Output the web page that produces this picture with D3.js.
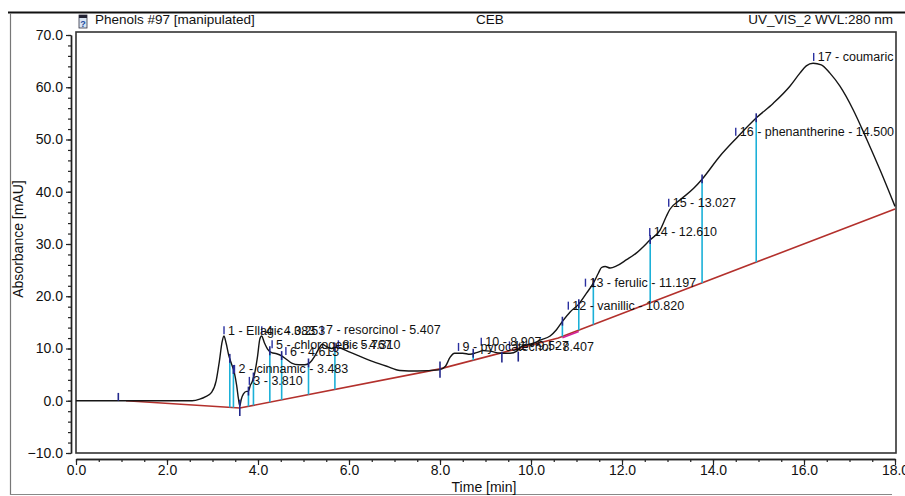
<!DOCTYPE html>
<html>
<head>
<meta charset="utf-8">
<script src="https://cdn.jsdelivr.net/npm/d3@7/dist/d3.min.js"></script>
<style>
  html, body { margin: 0; padding: 0; background: #fff; }
  svg { display: block; font-family: "Liberation Sans", Arial, sans-serif; }
</style>
</head>
<body>
<svg id="chart" width="905" height="496"></svg>
<script>
// ---------------- data ----------------
const curveTime = [0, 1.0, 2.0, 2.55, 2.72, 2.85, 2.98, 3.08, 3.15, 3.21, 3.25, 3.30, 3.36, 3.42, 3.48, 3.53, 3.57, 3.60, 3.63, 3.68, 3.75, 3.79, 3.83, 3.87, 3.93, 3.99, 4.04, 4.08, 4.14, 4.21, 4.30, 4.41, 4.52, 4.63, 4.74, 4.89, 5.03, 5.14, 5.25, 5.34, 5.41, 5.50, 5.62, 5.73, 5.84, 5.99, 6.24, 6.53, 6.83, 7.12, 7.5, 7.98, 8.12, 8.22, 8.32, 8.50, 8.66, 8.80, 8.95, 9.10, 9.32, 9.54, 9.69, 9.79, 9.91, 10.05, 10.2, 10.42, 10.56, 10.70, 10.86, 11.04, 11.22, 11.37, 11.48, 11.55, 11.63, 11.74, 11.88, 12.10, 12.32, 12.62, 12.84, 12.98, 13.05, 13.27, 13.57, 13.75, 14.15, 14.52, 14.96, 15.32, 15.69, 15.91, 16.05, 16.2, 16.38, 16.57, 16.79, 17.08, 17.38, 17.67, 18.0];
const curveAbs  = [0, 0, 0, 0, 0.3, 0.8, 1.6, 3.8, 7.5, 11.2, 12.4, 11.0, 8.6, 7.0, 5.4, 3.0, 0.4, -1.0, 0.2, 1.3, 1.8, 1.8, 2.9, 3.6, 5.4, 8.5, 11.8, 12.4, 11.1, 9.9, 9.2, 9.0, 8.6, 7.9, 7.2, 6.9, 6.9, 7.3, 8.6, 10.0, 10.8, 10.4, 10.0, 10.3, 10.0, 9.4, 8.5, 7.5, 6.6, 5.8, 5.7, 5.9, 6.6, 8.3, 9.1, 9.1, 8.9, 9.2, 9.6, 9.5, 9.1, 9.1, 9.5, 10.4, 10.7, 11.0, 11.6, 12.4, 13.6, 15.3, 17.0, 18.4, 20.6, 22.5, 24.4, 25.5, 25.7, 25.4, 25.8, 27.0, 28.3, 30.8, 32.7, 35.4, 36.6, 38.4, 40.6, 42.3, 46.8, 50.3, 54.2, 56.9, 60.2, 62.7, 64.1, 64.6, 64.3, 62.7, 60.2, 55.7, 50.0, 44.2, 37.2];

const baselineTime = [1.1, 3.6, 8.0, 10.6, 18.0];
const baselineAbs  = [0, -1.4, 6.1, 12.0, 36.7];

const peakTime  = [3.253, 3.483, 3.810, 4.083, 4.310, 4.613, 5.407, 5.767, 8.407, 8.907, 9.527, 10.820, 11.197, 12.610, 13.027, 14.500, 16.213];
const peakLabel = ["1 - Ellagic - 3.253", "2 - cinnamic - 3.483", "3 - 3.810", "4 - 4.083", "5 - chlorogenic - 4.310", "6 - 4.613", "7 - resorcinol - 5.407", "8 - 5.767", "9 - pyrocatechol - 8.407", "10 - 8.907", "11 - 9.527", "12 - vanillic - 10.820", "13 - ferulic - 11.197", "14 - 12.610", "15 - 13.027", "16 - phenantherine - 14.500", "17 - coumaric - 16.213"];
const peakLabelLevel = [13.5, 6.1, 3.8, 13.5, 10.8, 9.5, 13.6, 10.8, 10.3, 11.3, 10.6, 18.2, 22.6, 32.3, 37.9, 51.5, 65.8];

// drop lines between peaks (time)
const dropTime = [3.38, 3.46, 3.79, 3.90, 4.26, 4.52, 5.11, 5.69, 8.73, 10.69, 11.05, 11.37, 12.62, 13.76, 14.95];
// baseline delimiter marks: time, top, bottom (mAU)
const markTime   = [0.93, 3.60, 8.00, 9.36, 9.72];
const markTop    = [1.5, 0.2, 7.5, 9.4, 9.4];
const markBottom = [0.0, -2.9, 4.4, 7.3, 7.5];
// magenta baseline segment
const magentaTime = [10.69, 11.05];

const yMajor = [-10, 0, 10, 20, 30, 40, 50, 60, 70];
const xMajor = [0, 2, 4, 6, 8, 10, 12, 14, 16, 18];

const headerLeft = "Phenols #97 [manipulated]";
const headerMid = "CEB";
const headerRight = "UV_VIS_2 WVL:280 nm";
const xTitle = "Time [min]";
const yTitle = "Absorbance [mAU]";

// ---------------- drawing ----------------
const svg = d3.select("#chart");
const W = 905, H = 496;
const L = 76, R = 895, T = 35, B = 453;

const x = d3.scaleLinear().domain([0, 18]).range([L, R]);
const y = d3.scaleLinear().domain([-10, 70]).range([B, T]);

const curve = curveTime.map((t, i) => [t, curveAbs[i]]);
const base = baselineTime.map((t, i) => [t, baselineAbs[i]]);
function interp(arr, t) {
  for (let i = 1; i < arr.length; i++) {
    if (t <= arr[i][0]) {
      const a = arr[i - 1], b = arr[i];
      return a[1] + (b[1] - a[1]) * (t - a[0]) / (b[0] - a[0]);
    }
  }
  return arr[arr.length - 1][1];
}

// outer frame
svg.append("line").attr("x1", 8).attr("x2", W).attr("y1", 12.5).attr("y2", 12.5)
  .attr("stroke", "#111").attr("stroke-width", 2);
svg.append("line").attr("x1", 10.5).attr("x2", 10.5).attr("y1", 13).attr("y2", 495)
  .attr("stroke", "#777").attr("stroke-width", 1.2);
svg.append("line").attr("x1", 10).attr("x2", 892).attr("y1", 494.5).attr("y2", 494.5)
  .attr("stroke", "#888").attr("stroke-width", 1.2);

// header
const icon = svg.append("g").attr("transform", "translate(79,15)");
icon.append("rect").attr("width", 8).attr("height", 13).attr("fill", "#d8e4f2").attr("stroke", "#334").attr("stroke-width", 0.8);
icon.append("rect").attr("width", 8).attr("height", 3).attr("fill", "#223");
icon.append("text").attr("x", 4).attr("y", 12).attr("text-anchor", "middle").attr("font-size", 9).attr("font-weight", "bold").attr("fill", "#1a4aa0").text("?");

svg.append("text").attr("x", 95).attr("y", 24).attr("font-size", 13.5).attr("fill", "#111").text(headerLeft);
svg.append("text").attr("x", 490).attr("y", 24).attr("text-anchor", "middle").attr("font-size", 13.5).attr("fill", "#111").text(headerMid);
svg.append("text").attr("x", 893).attr("y", 24).attr("text-anchor", "end").attr("font-size", 13.5).attr("fill", "#111").text(headerRight);

// plot frame
svg.append("rect")
  .attr("x", L).attr("y", 32).attr("width", 896 - L).attr("height", B - 32)
  .attr("fill", "none").attr("stroke", "#333").attr("stroke-width", 1.6);

// y axis
const yAxisG = svg.append("g").attr("transform", "translate(71,0)");
yAxisG.call(d3.axisLeft(y).tickValues(d3.range(-10, 70.1, 2)).tickSize(3).tickFormat("").tickSizeOuter(0));
yAxisG.append("g").call(d3.axisLeft(y).tickValues(yMajor).tickSize(5).tickSizeOuter(0).tickPadding(3).tickFormat(d3.format(".1f")));
yAxisG.selectAll("path.domain").attr("stroke", "#222").attr("stroke-width", 1.4);
yAxisG.selectAll(".tick line").attr("stroke", "#222").attr("stroke-width", 1.2);
yAxisG.selectAll("text").attr("font-size", 14).attr("fill", "#111").attr("font-family", "Liberation Sans, Arial, sans-serif");

// x axis
const xAxisG = svg.append("g").attr("transform", "translate(0,459)");
xAxisG.call(d3.axisBottom(x).tickValues(d3.range(0, 18.01, 0.5)).tickSize(3).tickFormat("").tickSizeOuter(0));
xAxisG.append("g").call(d3.axisBottom(x).tickValues(xMajor).tickSize(6).tickSizeOuter(0).tickPadding(0).tickFormat(d3.format(".1f")));
xAxisG.selectAll("path.domain").attr("stroke", "#222").attr("stroke-width", 1.4);
xAxisG.selectAll(".tick line").attr("stroke", "#222").attr("stroke-width", 1.2);
xAxisG.selectAll("text").attr("font-size", 14).attr("fill", "#111").attr("font-family", "Liberation Sans, Arial, sans-serif");

// axis titles
svg.append("text").attr("x", 484).attr("y", 492).attr("text-anchor", "middle").attr("font-size", 14).attr("fill", "#111").text(xTitle);
svg.append("text").attr("transform", "translate(23,239) rotate(-90)").attr("text-anchor", "middle").attr("font-size", 14).attr("fill", "#111").text(yTitle);

// clip
svg.append("defs").append("clipPath").attr("id", "plotclip")
  .append("rect").attr("x", L).attr("y", 32).attr("width", 896 - L).attr("height", B - 32);
const plot = svg.append("g").attr("clip-path", "url(#plotclip)");

// baseline
plot.append("path").datum(base)
  .attr("d", d3.line().x(d => x(d[0])).y(d => y(d[1])))
  .attr("fill", "none").attr("stroke", "#b3302c").attr("stroke-width", 1.6);
plot.append("path").datum(magentaTime.map(t => [t, interp(base, t) - 0.25]))
  .attr("d", d3.line().x(d => x(d[0])).y(d => y(d[1])))
  .attr("fill", "none").attr("stroke", "#d4209c").attr("stroke-width", 1.6);

// drop lines
plot.selectAll(".drop").data(dropTime).join("line")
  .attr("x1", d => x(d)).attr("x2", d => x(d))
  .attr("y1", d => y(interp(curve, d))).attr("y2", d => y(interp(base, d)))
  .attr("stroke", "#1bb0d8").attr("stroke-width", 1.6);

// curve
plot.append("path").datum(curve)
  .attr("d", d3.line().x(d => x(d[0])).y(d => y(d[1])).curve(d3.curveMonotoneX))
  .attr("fill", "none").attr("stroke", "#151515").attr("stroke-width", 1.4);

// dark blue tick on top of each drop line
plot.selectAll(".droptick").data(dropTime).join("line")
  .attr("x1", d => x(d)).attr("x2", d => x(d))
  .attr("y1", d => y(interp(curve, d) + 0.9)).attr("y2", d => y(interp(curve, d) - 0.8))
  .attr("stroke", "#22288c").attr("stroke-width", 1.6);

// delimiter marks
plot.selectAll(".mark").data(markTime).join("line")
  .attr("x1", d => x(d)).attr("x2", d => x(d))
  .attr("y1", (d, i) => y(markTop[i])).attr("y2", (d, i) => y(markBottom[i]))
  .attr("stroke", "#22288c").attr("stroke-width", 1.6);

// peak label ticks and labels
plot.selectAll(".ptick").data(peakTime).join("line")
  .attr("x1", d => x(d)).attr("x2", d => x(d))
  .attr("y1", (d, i) => y(peakLabelLevel[i]) - 4).attr("y2", (d, i) => y(peakLabelLevel[i]) + 4)
  .attr("stroke", "#2a30a0").attr("stroke-width", 1.4);
plot.selectAll(".plabel").data(peakTime).join("text")
  .attr("x", d => x(d) + 4).attr("y", (d, i) => y(peakLabelLevel[i]))
  .attr("dy", "0.36em").attr("font-size", 12.5).attr("fill", "#111")
  .text((d, i) => peakLabel[i]);
</script>
</body>
</html>
